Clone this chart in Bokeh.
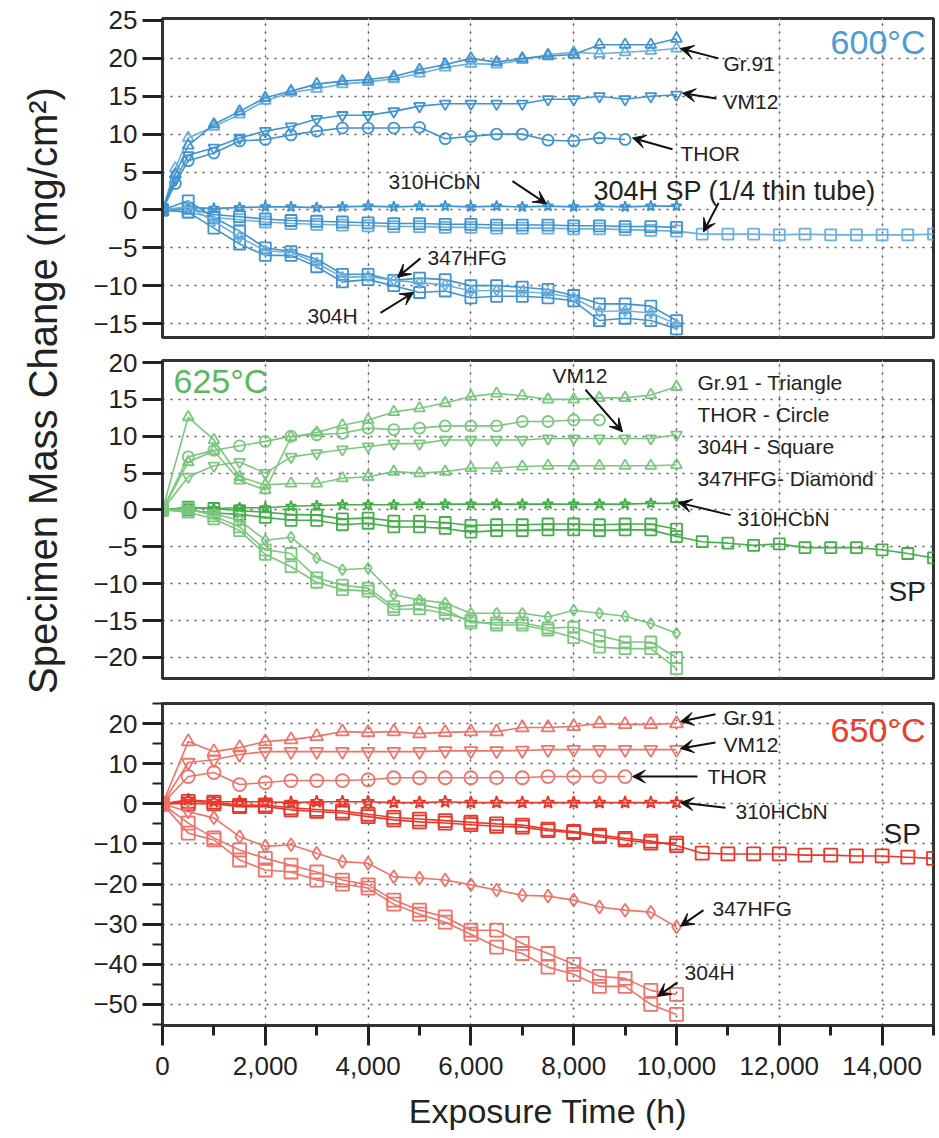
import math
from bokeh.plotting import figure
from bokeh.layouts import row, column
from bokeh.models import (Range1d, FixedTicker, Grid, Label, Arrow, VeeHead,
                          CustomJSTickFormatter, NumeralTickFormatter)
from bokeh.core.properties import value
from bokeh.embed import file_html
from bokeh.resources import INLINE

FONT = "Liberation Sans"

# ---------------- time bases (h) ----------------
t_10k = [0, 500, 1000, 1500, 2000, 2500, 3000, 3500, 4000, 4500, 5000,
         5500, 6000, 6500, 7000, 7500, 8000, 8500, 9000, 9500, 10000]
t_15k = [0, 500, 1000, 1500, 2000, 2500, 3000, 3500, 4000, 4500, 5000,
         5500, 6000, 6500, 7000, 7500, 8000, 8500, 9000, 9500, 10000,
         10500, 11000, 11500, 12000, 12500, 13000, 13500, 14000, 14500, 15000]
t_early_10k = [0, 250, 500, 1000, 1500, 2000, 2500, 3000, 3500, 4000, 4500,
               5000, 5500, 6000, 6500, 7000, 7500, 8000, 8500, 9000, 9500, 10000]
t_early_9k = [0, 250, 500, 1000, 1500, 2000, 2500, 3000, 3500, 4000, 4500,
              5000, 5500, 6000, 6500, 7000, 7500, 8000, 8500, 9000]
t_8500 = [0, 500, 1000, 1500, 2000, 2500, 3000, 3500, 4000, 4500, 5000,
          5500, 6000, 6500, 7000, 7500, 8000, 8500]
t_9k = [0, 500, 1000, 1500, 2000, 2500, 3000, 3500, 4000, 4500, 5000,
        5500, 6000, 6500, 7000, 7500, 8000, 8500, 9000]

# ---------------- 600 C ----------------
gr91_600_a = [0, 4.7, 8.5, 11.3, 13.0, 14.8, 15.7, 16.6, 17.0, 17.2, 17.6, 18.5,
              19.2, 20.0, 19.5, 20.0, 20.3, 20.5, 21.8, 21.8, 21.8, 22.6]
gr91_600_b = [0, 5.5, 9.5, 11.0, 12.6, 14.4, 15.5, 16.0, 16.6, 16.9, 17.3, 18.0,
              18.8, 19.3, 19.2, 19.8, 20.5, 20.8, 20.6, 20.8, 21.0, 21.3]
vm12_600 = [0, 4.0, 7.2, 8.2, 9.5, 10.4, 11.0, 12.0, 12.5, 12.5, 13.0, 13.7,
            14.0, 14.0, 14.0, 14.0, 14.6, 14.6, 15.0, 14.6, 15.0, 15.2]
thor_600 = [0, 3.5, 6.5, 7.5, 9.1, 9.3, 9.9, 10.4, 10.8, 10.8, 10.8, 10.9,
            9.4, 9.7, 10.0, 10.0, 9.2, 9.1, 9.5, 9.3]
hcbn_600 = [0, 0.3, 0.2, 0.3, 0.4, 0.4, 0.3, 0.4, 0.5, 0.4, 0.5, 0.5, 0.4, 0.5,
            0.4, 0.5, 0.4, 0.5, 0.4, 0.5, 0.5]
sp_600_a = [0, -0.3, -1.0, -1.3, -1.6, -1.8, -1.9, -2.0, -2.1, -2.2, -2.2, -2.3,
            -2.3, -2.4, -2.4, -2.4, -2.5, -2.5, -2.6, -2.7, -2.8, -3.2, -3.2,
            -3.2, -3.3, -3.2, -3.3, -3.3, -3.3, -3.3, -3.2]
sp_600_b = [0, 0.2, -0.6, -0.9, -1.2, -1.4, -1.5, -1.6, -1.7, -1.8, -1.8, -1.9,
            -1.9, -2.0, -2.0, -2.0, -2.1, -2.1, -2.2, -2.2, -2.3]
h304_600_a = [0, 1.2, -1.0, -2.8, -5.0, -5.5, -6.5, -8.5, -8.5, -9.3, -9.0, -9.2,
              -10.0, -10.0, -10.2, -10.5, -11.3, -12.4, -12.4, -12.7, -14.6]
h304_600_b = [0, -0.3, -2.4, -4.5, -6.0, -6.0, -7.5, -9.5, -9.2, -10.0, -10.9,
              -10.7, -11.6, -11.4, -11.4, -11.6, -12.0, -14.6, -14.3, -14.6, -15.7]
hfg_600 = [0, 0.4, -1.5, -3.6, -5.4, -5.6, -7.0, -8.9, -8.8, -9.3, -9.6, -9.9,
           -10.7, -10.6, -10.8, -11.0, -11.6, -13.4, -13.3, -13.6, -15.1]

# ---------------- 625 C ----------------
gr91_625_a = [0, 12.6, 9.5, 4.5, 3.4, 3.6, 3.6, 4.3, 4.5, 5.2, 5.0, 5.2, 5.7,
              5.7, 5.9, 6.0, 6.0, 6.0, 6.0, 6.0, 6.1]
gr91_625_b = [0, 6.5, 8.0, 4.0, 2.7, 9.9, 10.5, 11.5, 12.2, 13.3, 13.8, 14.5,
              15.4, 15.8, 15.5, 15.0, 15.0, 15.2, 15.2, 15.6, 16.7]
thor_625 = [0, 7.2, 8.1, 8.7, 9.3, 10.0, 10.2, 10.4, 11.1, 10.9, 11.1, 11.4,
            11.4, 11.4, 12.0, 12.0, 12.2, 12.2]
vm12_625 = [0, 4.5, 6.0, 6.5, 5.0, 7.2, 7.7, 8.2, 8.6, 9.0, 9.0, 9.5, 9.5, 9.5,
            9.5, 9.7, 9.7, 9.7, 9.7, 9.7, 10.2]
hcbn_625 = [0, 0.3, 0.2, 0.3, 0.3, 0.5, 0.6, 0.7, 0.7, 0.7, 0.8, 0.8, 0.8, 0.8,
            0.8, 0.8, 0.8, 0.8, 0.8, 0.9, 0.9]
sp_625_a = [0, 0, -0.4, -0.6, -1.0, -1.4, -1.4, -2.0, -1.8, -2.3, -2.3, -2.5,
            -3.0, -2.8, -2.8, -2.7, -2.7, -2.8, -2.7, -2.7, -3.6, -4.3, -4.5,
            -4.8, -4.6, -5.1, -5.1, -5.1, -5.4, -5.9, -6.5]
sp_625_b = [0, 0.4, 0.2, -0.1, -0.3, -0.6, -0.7, -1.2, -1.1, -1.5, -1.5, -1.7,
            -2.1, -2.0, -2.0, -1.9, -1.9, -2.0, -1.9, -1.9, -2.6]
hfg_625 = [0, 0, -0.5, -1.4, -4.1, -3.7, -6.5, -8.1, -7.9, -11.5, -12.2, -12.6,
           -14.0, -14.0, -14.0, -14.5, -13.6, -14.0, -14.4, -15.4, -16.7]
h304_625_a = [0, 0.2, -0.8, -2.3, -5.4, -5.9, -9.2, -10.2, -10.6, -13.1, -12.8,
              -13.5, -15.3, -15.3, -15.3, -16.0, -15.9, -17.0, -17.9, -17.9, -20.0]
h304_625_b = [0, -0.3, -1.2, -2.8, -6.0, -7.7, -9.8, -10.8, -11.0, -13.5, -13.4,
              -14.0, -15.0, -15.6, -15.6, -16.3, -17.3, -18.6, -18.8, -18.8, -21.5]

# ---------------- 650 C ----------------
gr91_650 = [0, 15.5, 13.0, 14.0, 15.5, 16.0, 16.8, 18.0, 17.8, 18.0, 17.5, 17.8,
            18.0, 18.0, 19.0, 19.0, 19.3, 20.0, 19.8, 19.8, 20.0]
vm12_650 = [0, 10.3, 11.0, 12.3, 13.0, 13.0, 13.0, 13.0, 13.0, 13.0, 13.0, 13.2,
            13.2, 13.2, 13.3, 13.5, 13.5, 13.5, 13.5, 13.5, 13.5]
thor_650 = [0, 6.8, 7.8, 4.8, 5.3, 5.8, 5.8, 5.8, 6.0, 6.5, 6.5, 6.5, 6.5, 6.5,
            6.5, 6.8, 6.8, 6.8, 6.8]
hcbn_650 = [0, 1.0, 0.5, 0.5, 0.5, 0.3, 0.5, 0.5, 0.5, 0.3, 0.3, 0.5, 0.3, 0.3,
            0.3, 0.3, 0.3, 0.3, 0.3, 0.3, 0.3]
sp_650_a = [0, 0, 0, -0.7, -0.7, -1.5, -1.9, -2.3, -3.2, -4.0, -4.5, -4.8, -5.2,
            -5.6, -5.8, -6.7, -7.2, -8.2, -9.0, -9.8, -9.8]
sp_650_b = [0, 0.6, 0.4, -0.4, -0.3, -1.0, -1.4, -1.8, -2.6, -3.4, -3.8, -4.2,
            -4.6, -5.0, -5.3, -6.3, -6.9, -7.8, -8.6, -9.3, -10.4, -12.3, -12.5,
            -12.5, -12.5, -12.8, -12.8, -13.0, -13.0, -13.3, -13.6]
hfg_650 = [0, -2.0, -3.5, -8.2, -10.6, -10.2, -12.3, -14.4, -14.8, -18.2, -18.5,
           -19.0, -20.2, -21.5, -22.8, -23.0, -24.0, -25.7, -26.5, -27.0, -30.7]
h304_650_a = [0, -4.8, -8.5, -11.5, -13.6, -15.3, -17.0, -19.0, -20.2, -24.0,
              -26.5, -28.2, -31.5, -31.5, -34.8, -37.3, -40.0, -43.0, -43.5,
              -46.5, -47.5]
h304_650_b = [0, -7.3, -9.0, -14.0, -16.5, -17.0, -19.0, -20.0, -21.0, -25.0,
              -27.5, -29.5, -32.5, -35.7, -37.3, -40.7, -42.5, -45.5, -45.5,
              -50.0, -52.5]

# tick values
x_major = [0, 2000, 4000, 6000, 8000, 10000, 12000, 14000]
x_minor = [1000, 3000, 5000, 7000, 9000, 11000, 13000, 15000]
x_grid = [2000, 4000, 6000, 8000, 10000, 12000, 14000]
y1_ticks = [-15, -10, -5, 0, 5, 10, 15, 20, 25]
y2_ticks = [-20, -15, -10, -5, 0, 5, 10, 15, 20]
y3_ticks = [-50, -40, -30, -20, -10, 0, 10, 20]
y3_minor = [-55, -45, -35, -25, -15, -5, 5, 15, 25]

BLUE, BLUE_L = "#3f93cf", "#6db0de"
GREEN, GREEN_L = "#46ad4b", "#7cc77f"
RED, RED_L = "#e8372b", "#f0736a"

minus_fmt = "return tick < 0 ? '\\u2212' + Math.abs(tick) : String(tick);"

LEFT_W = 80


def make_panel(height, top, bottom, yr, yticks, yminor=None, xaxis=False):
    kw = dict(width=939 - LEFT_W, height=height, output_backend="svg",
              toolbar_location=None, x_range=Range1d(0, 15000),
              y_range=Range1d(*yr), min_border_left=162 - LEFT_W,
              min_border_right=6, min_border_top=top,
              min_border_bottom=bottom)
    if not xaxis:
        kw["x_axis_location"] = None
    p = figure(**kw)
    p.outline_line_width = 3
    p.outline_line_color = "#333333"
    p.background_fill_color = "white"
    p.border_fill_color = "white"
    ya = p.yaxis[0]
    ya.ticker = FixedTicker(ticks=yticks, minor_ticks=yminor or [])
    ya.formatter = CustomJSTickFormatter(code=minus_fmt)
    ya.axis_line_width = 3
    ya.axis_line_color = "#333333"
    ya.major_tick_line_width = 3
    ya.major_tick_line_color = "#222222"
    ya.major_tick_out = 20
    ya.major_tick_in = 0
    ya.minor_tick_out = 10 if yminor else 0
    ya.minor_tick_in = 0
    ya.minor_tick_line_width = 2
    ya.minor_tick_line_color = "#222222"
    ya.major_label_text_font = FONT
    ya.major_label_text_font_size = "26px"
    ya.major_label_text_color = "#222222"
    ya.major_label_standoff = 5
    p.ygrid[0].ticker = FixedTicker(ticks=[t for t in yticks if yr[0] < t < yr[1] - 1])
    p.ygrid[0].grid_line_color = "#555555"
    p.ygrid[0].grid_line_dash = "2 6"
    p.ygrid[0].grid_line_width = 1.5
    if xaxis:
        xa = p.xaxis[0]
        xa.ticker = FixedTicker(ticks=x_major, minor_ticks=x_minor)
        xa.formatter = NumeralTickFormatter(format="0,0")
        xa.axis_line_width = 3
        xa.axis_line_color = "#333333"
        xa.major_tick_line_width = 3
        xa.major_tick_line_color = "#222222"
        xa.major_tick_out = 20
        xa.major_tick_in = 0
        xa.minor_tick_out = 10
        xa.minor_tick_in = 0
        xa.minor_tick_line_width = 3
        xa.minor_tick_line_color = "#222222"
        xa.major_label_text_font = FONT
        xa.major_label_text_font_size = "26px"
        xa.major_label_text_color = "#222222"
        xa.major_label_standoff = 11
        xa.axis_label = "Exposure Time (h)"
        xa.axis_label_text_font = FONT
        xa.axis_label_text_font_style = "normal"
        xa.axis_label_text_font_size = "34px"
        xa.axis_label_text_color = "#222222"
        xa.axis_label_standoff = 14
        p.xgrid[0].visible = False
    p.add_layout(Grid(dimension=0, ticker=FixedTicker(ticks=x_grid),
                      grid_line_color="#555555", grid_line_dash="2 6",
                      grid_line_width=1.5))
    return p


def series(p, t, v, marker, color, size):
    p.line(t, v, line_color=color, line_width=1.6)
    p.scatter(t, v, marker=marker, size=size, fill_color=None,
              line_color=color, line_width=1.8)


def note(p, x, y, text, size="21px", color="#222222", align="left"):
    p.add_layout(Label(x=x, y=y, text=text, text_font=FONT,
                       text_font_size=size, text_color=color,
                       text_align=align, text_baseline="middle"))


def arrow(p, xs, ys, xe, ye):
    p.add_layout(Arrow(end=VeeHead(size=13, fill_color="#111111",
                                   line_color="#111111", line_width=1),
                       x_start=xs, y_start=ys, x_end=xe, y_end=ye,
                       line_color="#111111", line_width=2))


# ---------------- panel 1: 600 C ----------------
p1 = make_panel(348, 18, 11, (-16.84, 25.26), y1_ticks)
S = 11
series(p1, t_15k, sp_600_a, "square", BLUE_L, S)
series(p1, t_10k, sp_600_b, "square", BLUE, S)
series(p1, t_10k, hcbn_600, "star", BLUE, S)
series(p1, t_10k, h304_600_a, "square", BLUE, S)
series(p1, t_10k, h304_600_b, "square", BLUE, S)
series(p1, t_10k, hfg_600, "diamond", BLUE_L, S)
series(p1, t_early_9k, thor_600, "circle", BLUE, S)
series(p1, t_early_10k, vm12_600, "inverted_triangle", BLUE, S)
series(p1, t_early_10k, gr91_600_b, "triangle", BLUE_L, S)
series(p1, t_early_10k, gr91_600_a, "triangle", BLUE, S)

note(p1, 14844, 22.1, "600°C", size="34px", color="#4b9cd3", align="right")
note(p1, 10914, 19.3, "Gr.91")
arrow(p1, 10817, 20.0, 10078, 21.3)
note(p1, 10914, 14.3, "VM12")
arrow(p1, 10778, 14.7, 10117, 15.4)
note(p1, 10078, 7.4, "THOR")
arrow(p1, 9922, 8.0, 9144, 9.5)
note(p1, 4397, 3.8, "310HCbN")
arrow(p1, 6809, 3.8, 7471, 0.8)
note(p1, 8385, 2.5, "304H SP (1/4 thin tube)", size="27px")
arrow(p1, 10817, 0.9, 10525, -2.9)
note(p1, 5156, -6.3, "347HFG")
arrow(p1, 5019, -6.4, 4572, -8.9)
note(p1, 2821, -13.9, "304H")
arrow(p1, 4241, -13.6, 4883, -10.9)

# ---------------- panel 2: 625 C ----------------
p2 = make_panel(342, 12, 12, (-22.85, 20.27), y2_ticks)
series(p2, t_15k, sp_625_a, "square", GREEN, S)
series(p2, t_10k, sp_625_b, "square", GREEN, S)
series(p2, t_10k, hcbn_625, "star", GREEN, S)
series(p2, t_10k, h304_625_a, "square", GREEN_L, S)
series(p2, t_10k, h304_625_b, "square", GREEN_L, S)
series(p2, t_10k, hfg_625, "diamond", GREEN_L, S)
series(p2, t_8500, thor_625, "circle", GREEN_L, S)
series(p2, t_10k, vm12_625, "inverted_triangle", GREEN_L, S)
series(p2, t_10k, gr91_625_a, "triangle", GREEN_L, S)
series(p2, t_10k, gr91_625_b, "triangle", GREEN_L, S)

note(p2, 214, 17.5, "625°C", size="34px", color="#5cb85f")
note(p2, 7588, 18.3, "VM12")
arrow(p2, 8230, 16.3, 8949, 10.6)
note(p2, 10409, 17.3, "Gr.91 - Triangle")
note(p2, 10409, 12.9, "THOR - Circle")
note(p2, 10409, 8.6, "304H - Square")
note(p2, 10409, 4.3, "347HFG- Diamond")
note(p2, 11187, -1.1, "310HCbN")
arrow(p2, 11051, -0.7, 10039, 1.0)
note(p2, 14125, -11.1, "SP", size="28px")

# ---------------- panel 3: 650 C ----------------
p3 = make_panel(448, 13, 113, (-55.25, 25.0), y3_ticks, yminor=y3_minor, xaxis=True)
S3 = 13
series(p3, t_15k, sp_650_b, "square", RED, S3)
series(p3, t_10k, sp_650_a, "square", RED, S3)
series(p3, t_10k, hcbn_650, "star", RED, S3)
series(p3, t_10k, h304_650_a, "square", RED_L, S3)
series(p3, t_10k, h304_650_b, "square", RED_L, S3)
series(p3, t_10k, hfg_650, "diamond", RED_L, S3)
series(p3, t_9k, thor_650, "circle", RED_L, S3)
series(p3, t_10k, vm12_650, "inverted_triangle", RED_L, S3)
series(p3, t_10k, gr91_650, "triangle", RED_L, S3)

note(p3, 14844, 18.5, "650°C", size="34px", color="#ee3b2f", align="right")
note(p3, 10914, 21.5, "Gr.91")
arrow(p3, 10759, 22.3, 10078, 20.5)
note(p3, 10914, 14.8, "VM12")
arrow(p3, 10759, 15.3, 10078, 13.8)
note(p3, 10603, 6.8, "THOR")
arrow(p3, 10408, 6.8, 9144, 6.8)
note(p3, 11148, -2.0, "310HCbN")
arrow(p3, 10953, -1.0, 10078, 0.3)
note(p3, 14027, -7.3, "SP", size="28px")
note(p3, 10700, -26.0, "347HFG")
arrow(p3, 10525, -26.5, 10078, -30.5)
note(p3, 10156, -42.0, "304H")
arrow(p3, 10019, -44.5, 9630, -48.0)

# ---------------- shared y title ----------------
pt = figure(width=LEFT_W, height=1138, output_backend="svg", toolbar_location=None,
            x_range=Range1d(0, LEFT_W), y_range=Range1d(0, 1138),
            x_axis_location=None, y_axis_location=None,
            min_border=0, outline_line_color=None)
pt.grid.visible = False
pt.text(x=[42], y=[1138 - 390], text=["Specimen Mass Change (mg/cm²)"],
        angle=math.pi / 2, text_align="center", text_baseline="middle",
        text_font=value(FONT), text_font_size="40px", text_color="#222222")

layout = row(pt, column(p1, p2, p3, spacing=0), spacing=0)
open("out.html", "w").write(file_html(layout, INLINE))
